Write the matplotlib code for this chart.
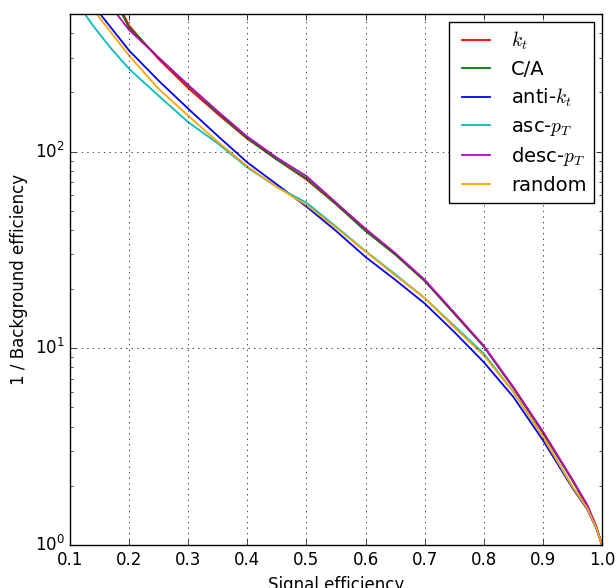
import numpy as np
import matplotlib
matplotlib.use('Agg')
import matplotlib.pyplot as plt

plt.style.use('classic')

# ROC curves: signal efficiency vs 1 / background efficiency
x_kt   = [0.19, 0.20, 0.25, 0.30, 0.35, 0.40, 0.45, 0.50, 0.55, 0.60, 0.65, 0.70, 0.75, 0.80, 0.85, 0.90, 0.95, 0.975, 0.99, 1.0]
y_kt   = [500, 436, 295, 210, 155, 116, 91, 72, 54, 39.5, 30, 22, 15, 10.2, 6.3, 3.72, 2.13, 1.58, 1.24, 1.0]

x_ca   = [0.188, 0.20, 0.25, 0.30, 0.35, 0.40, 0.45, 0.50, 0.55, 0.60, 0.65, 0.70, 0.75, 0.80, 0.85, 0.90, 0.95, 0.975, 0.99, 1.0]
y_ca   = [500, 425, 300, 216, 158, 117, 91, 73, 54, 39.5, 30, 22, 15, 10.2, 6.3, 3.74, 2.13, 1.59, 1.25, 1.0]

x_akt  = [0.151, 0.20, 0.25, 0.30, 0.35, 0.40, 0.45, 0.50, 0.55, 0.60, 0.65, 0.70, 0.75, 0.80, 0.85, 0.90, 0.95, 0.975, 0.99, 1.0]
y_akt  = [500, 326, 229, 165, 120, 88, 68, 52.5, 39.5, 29.1, 22.3, 16.9, 12.1, 8.5, 5.66, 3.41, 1.95, 1.52, 1.22, 1.0]

x_asc  = [0.125, 0.139, 0.168, 0.20, 0.25, 0.30, 0.35, 0.40, 0.45, 0.50, 0.55, 0.60, 0.65, 0.70, 0.75, 0.80, 0.85, 0.90, 0.95, 0.975, 0.99, 1.0]
y_asc  = [500, 436, 338, 263, 192, 141, 110, 83, 66, 55, 41.5, 31.2, 23.8, 18, 13, 9.4, 6.0, 3.55, 1.98, 1.54, 1.23, 1.0]

x_desc = [0.179, 0.20, 0.25, 0.30, 0.35, 0.40, 0.45, 0.50, 0.55, 0.60, 0.65, 0.70, 0.75, 0.80, 0.85, 0.90, 0.95, 0.975, 0.99, 1.0]
y_desc = [500, 415, 300, 218, 160, 119, 93, 75, 55, 40.5, 30.5, 22.3, 15.2, 10.3, 6.35, 3.78, 2.15, 1.6, 1.25, 1.0]

x_rand = [0.145, 0.20, 0.25, 0.30, 0.35, 0.40, 0.45, 0.50, 0.55, 0.60, 0.65, 0.70, 0.75, 0.80, 0.85, 0.90, 0.95, 0.975, 0.99, 1.0]
y_rand = [500, 307, 208, 152, 112, 84, 66, 53.5, 41, 31, 23.5, 18, 12.8, 9.2, 6.0, 3.55, 1.98, 1.54, 1.23, 1.0]

SERIES = [
    (x_kt,   y_kt,   r'$k_t$',      'r'),
    (x_ca,   y_ca,   'C/A',         'g'),
    (x_akt,  y_akt,  r'anti-$k_t$', 'b'),
    (x_asc,  y_asc,  r'asc-$p_T$',  'c'),
    (x_desc, y_desc, r'desc-$p_T$', 'm'),
    (x_rand, y_rand, 'random',      'orange'),
]

fig = plt.figure(figsize=(6.16, 5.88), dpi=100, facecolor='white')
ax = fig.add_axes([70/616, 43/588, 532/616, 531/588])

for xs, ys, lab, col in SERIES:
    ax.plot(xs, ys, color=col, label=lab, linewidth=1.3)

ax.set_yscale('log')
ax.set_xlim(0.1, 1.0)
ax.set_ylim(1, 500)
ax.grid(True, which='major')
ax.set_xlabel('Signal efficiency')
ax.set_ylabel('1 / Background efficiency')
ax.legend(loc='upper right', fontsize=14, labelspacing=0.4, borderaxespad=0.4)

fig.savefig('out.png', dpi=100, facecolor='white')
